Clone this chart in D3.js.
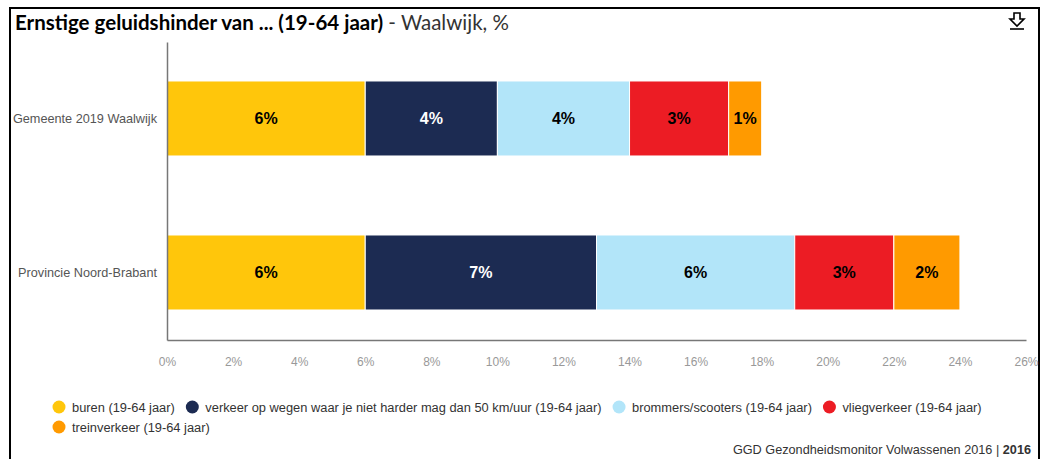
<!DOCTYPE html>
<html><head><meta charset="utf-8">
<script src="https://cdn.jsdelivr.net/npm/d3@7"></script>
<style>
html,body{margin:0;padding:0;background:#fff;}
svg{display:block;}
</style></head>
<body>
<svg id="chart" width="1042" height="459"></svg>
<script>
const categories = ["Gemeente 2019 Waalwijk", "Provincie Noord-Brabant"];
const seriesNames = ["buren (19-64 jaar)", "verkeer op wegen waar je niet harder mag dan 50 km/uur (19-64 jaar)", "brommers/scooters (19-64 jaar)", "vliegverkeer (19-64 jaar)", "treinverkeer (19-64 jaar)"];
const seriesColors = ["#FFC60B", "#1C2B52", "#B2E5F9", "#EC1C24", "#FF9A00"];
const labelColors = ["#000", "#fff", "#000", "#000", "#000"];
const buren = [6, 6];
const verkeer = [4, 7];
const brommers = [4, 6];
const vlieg = [3, 3];
const trein = [1, 2];
const tickValues = [0, 2, 4, 6, 8, 10, 12, 14, 16, 18, 20, 22, 24, 26];

const seriesValues = [buren, verkeer, brommers, vlieg, trein];
const svg = d3.select("#chart");
const FONT = "Liberation Sans, Arial, sans-serif";

// frame
svg.append("path").attr("d", "M10,459 V8 H1039 V459").attr("fill", "none").attr("stroke", "#000").attr("stroke-width", 2);

// title
const title = svg.append("text").attr("x", 15).attr("y", 30).attr("font-family", "Lato, 'Open Sans', sans-serif").attr("font-size", 20.5).attr("fill", "#000");
title.append("tspan").attr("font-weight", "bold").text("Ernstige geluidshinder van ... (19-64 jaar)");
title.append("tspan").attr("fill", "#333").text(" - Waalwijk, %");

// download icon
const ic = svg.append("g").attr("transform", "translate(1017,21)").attr("fill", "none").attr("stroke", "#000").attr("stroke-width", 1.6);
ic.append("path").attr("d", "M-3,-8 H3 V-2 H7 L0,5 L-7,-2 H-3 Z");
ic.append("path").attr("d", "M-7,8 H7");

const x = d3.scaleLinear().domain([0, 26]).range([167, 1026]);
const y = d3.scaleBand().domain(categories).range([42, 340]).paddingInner(0.513).paddingOuter(0.224).align(0.565);

// stacked data
const stackData = categories.map((c, i) => {
  const o = {cat: c};
  seriesNames.forEach((s, j) => o[s] = seriesValues[j][i]);
  return o;
});
const stacked = d3.stack().keys(seriesNames)(stackData);

stacked.forEach((layer, j) => {
  const g = svg.append("g");
  g.selectAll("rect").data(layer).join("rect")
    .attr("x", d => x(d[0]))
    .attr("y", d => y(d.data.cat))
    .attr("width", d => x(d[1]) - x(d[0]))
    .attr("height", y.bandwidth())
    .attr("fill", seriesColors[j])
    .attr("stroke", "#fff").attr("stroke-width", 1);
  g.selectAll("text").data(layer).join("text")
    .attr("x", d => (x(d[0]) + x(d[1])) / 2)
    .attr("y", d => y(d.data.cat) + y.bandwidth() / 2 + 6)
    .attr("text-anchor", "middle")
    .attr("font-family", FONT)
    .attr("font-weight", "bold").attr("font-size", 16)
    .attr("fill", labelColors[j])
    .text(d => (d[1] - d[0]) + "%");
});

// axes
const xAxis = svg.append("g").attr("transform", "translate(0,340)")
  .call(d3.axisBottom(x).tickValues(tickValues).tickSize(0).tickPadding(17).tickFormat(d => d + "%"));
xAxis.select(".domain").attr("stroke", "#777").attr("stroke-width", 1.5);
xAxis.selectAll("text").attr("font-family", FONT).attr("font-size", 12).attr("fill", "#999");

const yAxis = svg.append("g").attr("transform", "translate(167,0)")
  .call(d3.axisLeft(y).tickSize(0).tickPadding(10));
yAxis.select(".domain").attr("stroke", "#777").attr("stroke-width", 1.5);
yAxis.selectAll("text").attr("font-family", FONT).attr("font-size", 12.7).attr("fill", "#555");

// legend
const legendRows = [[0, 1, 2, 3], [4]];
legendRows.forEach((row, ri) => {
  let cx = 59;
  const ly = 407 + ri * 20;
  row.forEach(j => {
    const g = svg.append("g").attr("transform", `translate(${cx},${ly})`);
    g.append("circle").attr("cx", 0).attr("cy", 0).attr("r", 6.5).attr("fill", seriesColors[j]);
    const t = g.append("text").attr("x", 13).attr("y", 4.5)
      .attr("font-family", FONT).attr("font-size", 12.85).attr("fill", "#333")
      .text(seriesNames[j]);
    cx += 13 + t.node().getComputedTextLength() + 17.5;
  });
});

// footer
const ft = svg.append("text").attr("x", 1031).attr("y", 454).attr("text-anchor", "end")
  .attr("font-family", FONT).attr("font-size", 12.7).attr("fill", "#333");
ft.append("tspan").text("GGD Gezondheidsmonitor Volwassenen 2016 | ");
ft.append("tspan").attr("font-weight", "bold").text("2016");
</script>
</body></html>
